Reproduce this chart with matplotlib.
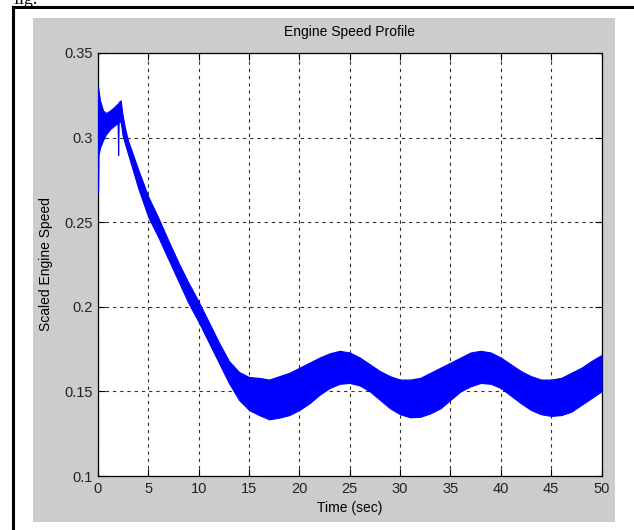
import matplotlib
matplotlib.use("Agg")
import matplotlib.pyplot as plt
from matplotlib.lines import Line2D
from matplotlib.patches import Rectangle

plt.rcParams['font.family'] = ['Liberation Sans', 'DejaVu Sans']

# ---- data (envelope of the rapidly oscillating engine speed signal) ----
time_s = [0.0, 0.05, 0.2, 0.5, 0.8, 1.2, 1.6, 1.95, 2.0, 2.05, 2.25, 2.45, 2.7,
          3.0, 4.0, 5.0, 6.0, 7.0, 8.0, 9.0, 10.0, 11.0, 12.0, 13.0, 14.0,
          15.0, 16.0, 17.0, 18.0, 19.0, 20.0, 21.0, 22.0, 23.0, 24.0, 25.0,
          26.0, 27.0, 28.0, 29.0, 30.0, 31.0, 32.0, 33.0, 34.0, 35.0, 36.0,
          37.0, 38.0, 39.0, 40.0, 41.0, 42.0, 43.0, 44.0, 45.0, 46.0, 47.0,
          48.0, 49.0, 50.0]
speed_upper = [0.330, 0.328, 0.322, 0.316, 0.3145, 0.316, 0.318, 0.320, 0.320,
               0.321, 0.322, 0.313, 0.305,
               0.298, 0.281, 0.265, 0.2525, 0.239, 0.226, 0.214, 0.203, 0.191,
               0.179, 0.168, 0.1615, 0.1585, 0.158, 0.157, 0.159, 0.161, 0.164,
               0.167, 0.170, 0.1725, 0.174, 0.173, 0.170, 0.166, 0.162, 0.159,
               0.157, 0.157, 0.158, 0.161, 0.164, 0.167, 0.170, 0.173, 0.174,
               0.173, 0.170, 0.166, 0.162, 0.159, 0.157, 0.157, 0.158, 0.161,
               0.164, 0.168, 0.1715]
speed_lower = [0.268, 0.290, 0.294, 0.2985, 0.302, 0.305, 0.307, 0.3085, 0.2897,
               0.309, 0.3095, 0.301, 0.296,
               0.290, 0.270, 0.253, 0.241, 0.228, 0.215, 0.202, 0.191, 0.179,
               0.167, 0.155, 0.145, 0.139, 0.136, 0.1335, 0.1345, 0.136, 0.139,
               0.143, 0.148, 0.152, 0.1545, 0.155, 0.1535, 0.150, 0.145, 0.140,
               0.1365, 0.1347, 0.135, 0.137, 0.140, 0.145, 0.150, 0.153, 0.155,
               0.1545, 0.152, 0.1475, 0.143, 0.139, 0.1365, 0.1355, 0.136, 0.138,
               0.142, 0.146, 0.150]
x_ticks = [0, 5, 10, 15, 20, 25, 30, 35, 40, 45, 50]
y_ticks = [0.1, 0.15, 0.2, 0.25, 0.3, 0.35]
y_ticklabels = ['0.1', '0.15', '0.2', '0.25', '0.3', '0.35']

W, H = 634, 530
fig = plt.figure(figsize=(W / 100, H / 100), dpi=100, facecolor='white')

# grey MATLAB figure panel
fig.patches.append(Rectangle((33 / W, 1 - 522 / H), (615 - 33) / W, (522 - 18) / H,
                             transform=fig.transFigure, facecolor='#cccccc',
                             edgecolor='none', zorder=-5))
# black page border (left and top)
fig.lines.append(Line2D([13 / W, 13 / W], [0, 1 - 7 / H], transform=fig.transFigure,
                        color='black', lw=2.2, zorder=-4))
fig.lines.append(Line2D([13 / W, 1.0], [1 - 7 / H, 1 - 7 / H], transform=fig.transFigure,
                        color='black', lw=2.2, zorder=-4))
# clipped caption from the document above
fig.text(13 / W, 1 - 4 / H, 'fig.', family='Liberation Serif', fontsize=13,
         va='baseline', ha='left', color='black')

ax = fig.add_axes([98 / W, 1 - 476 / H, (601.5 - 98) / W, (476 - 53) / H])
ax.set_zorder(5)
ax.set_facecolor('white')
ax.fill_between(time_s, speed_lower, speed_upper, color='#0000ff', lw=0.8,
                edgecolor='#0000ff', zorder=3)

ax.set_xlim(0, 50)
ax.set_ylim(0.1, 0.35)
ax.set_xticks(x_ticks)
ax.set_yticks(y_ticks)
ax.set_yticklabels(y_ticklabels)
ax.tick_params(direction='in', length=5, width=0.8, top=True, right=True,
               labelsize=10.5, colors='black', labelcolor='#222222', pad=4)
ax.grid(True, color='#333333', linestyle=(0, (3, 3.5)), linewidth=0.8)
for s in ax.spines.values():
    s.set_color('black')
    s.set_linewidth(0.9)

ax.set_title('Engine Speed Profile', fontsize=10, pad=12, color='black')
ax.set_xlabel('Time (sec)', fontsize=10, labelpad=4, color='black')
ax.set_ylabel('Scaled Engine Speed', fontsize=10, labelpad=8, color='black')

fig.savefig('out.png', dpi=100, facecolor='white')
